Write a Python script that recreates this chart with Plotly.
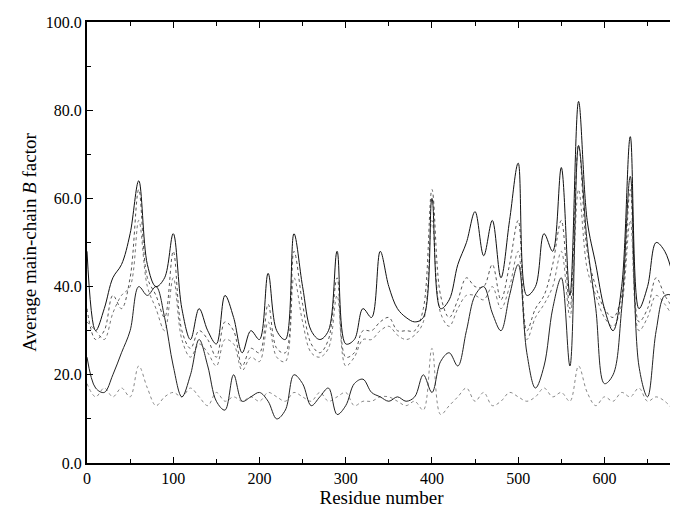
# Average main-chain B factor per residue, several refinement models.
import plotly.graph_objects as go

residues = list(range(0, 690, 10))

solid_upper = [48, 30, 35, 42, 45, 52, 64, 45, 40, 42, 52, 35, 28, 35, 30, 27, 38, 33, 25, 30,
               28, 43, 30, 28, 52, 40, 30, 28, 30, 48, 27, 28, 35, 33, 48, 40, 35, 33, 32, 33,
               60, 35, 37, 45, 50, 57, 47, 55, 42, 55, 68, 38, 40, 52, 48, 67, 38, 82, 55, 45,
               35, 30, 40, 74, 35, 40, 50, 48, 42]
solid_lower = [24, 17, 16, 20, 25, 30, 40, 38, 40, 33, 22, 15, 20, 28, 22, 14, 12, 20, 14, 15,
               16, 14, 10, 12, 20, 18, 13, 15, 17, 11, 13, 18, 19, 16, 15, 14, 15, 14, 15, 20,
               16, 23, 25, 22, 30, 38, 40, 34, 30, 38, 45, 25, 17, 22, 35, 42, 22, 72, 50, 35,
               18, 20, 35, 65, 22, 15, 30, 38, 38]
dotted_a = [35, 28, 30, 38, 35, 42, 62, 42, 38, 33, 48, 30, 26, 30, 28, 24, 32, 30, 22, 26,
            25, 36, 26, 25, 48, 36, 27, 25, 28, 42, 24, 25, 30, 30, 32, 33, 30, 30, 30, 35,
            62, 38, 33, 37, 42, 40, 40, 45, 37, 45, 55, 30, 35, 38, 45, 55, 35, 72, 48, 40,
            35, 33, 38, 62, 32, 35, 42, 38, 35]
dotted_b = [32, 30, 28, 34, 38, 40, 55, 40, 35, 30, 42, 28, 24, 27, 25, 22, 28, 27, 21, 24,
            23, 32, 24, 23, 42, 32, 25, 24, 26, 38, 22, 24, 28, 28, 30, 31, 29, 28, 29, 32,
            55, 34, 31, 35, 38, 38, 37, 40, 35, 40, 48, 28, 33, 36, 40, 48, 33, 62, 44, 38,
            33, 31, 36, 55, 30, 33, 38, 36, 33]
dotted_low = [18, 15, 17, 15, 17, 15, 22, 17, 13, 15, 16, 15, 17, 15, 13, 16, 14, 15, 14, 15,
              14, 16, 15, 14, 16, 15, 14, 16, 14, 15, 16, 13, 14, 14, 15, 15, 14, 13, 14, 12,
              26, 11, 13, 15, 17, 14, 16, 13, 14, 16, 15, 14, 15, 17, 15, 16, 14, 22, 16, 13,
              15, 14, 16, 15, 17, 14, 15, 14, 12]

fig = go.Figure()
series = [
    (dotted_low, "dot", "#888888"),
    (dotted_b, "dot", "#777777"),
    (dotted_a, "dot", "#555555"),
    (solid_lower, "solid", "#222222"),
    (solid_upper, "solid", "#111111"),
]
for values, dash, colour in series:
    fig.add_trace(go.Scatter(x=residues, y=values, mode="lines", line_shape="spline",
                             line=dict(color=colour, width=1, dash=dash)))

axis_style = dict(showgrid=False, zeroline=False, showline=True, linecolor="black",
                  linewidth=2, mirror="ticks", ticks="inside", ticklen=6,
                  tickcolor="black", automargin=False)
fig.update_xaxes(range=[0, 683], tickvals=[0, 100, 200, 300, 400, 500, 600],
                 minor=dict(dtick=50, ticks="inside", ticklen=4, tickcolor="black"),
                 title_text="Residue number", title_standoff=2,
                 title_font_size=19, **axis_style)
fig.update_yaxes(range=[0, 100], dtick=20, tickformat=".1f",
                 minor=dict(dtick=10, ticks="inside", ticklen=4, tickcolor="black"),
                 title_text="Average main-chain <i>B</i> factor", title_standoff=4,
                 title_font_size=19, **axis_style)
# page body adds an 8px margin, so the figure is sized to fit inside the window
fig.update_layout(width=670, height=506, showlegend=False,
                  plot_bgcolor="white", paper_bgcolor="white",
                  font=dict(family="Liberation Serif", size=16, color="black"),
                  margin=dict(l=79, r=2, t=14, b=51))
fig.write_html("out.html")
